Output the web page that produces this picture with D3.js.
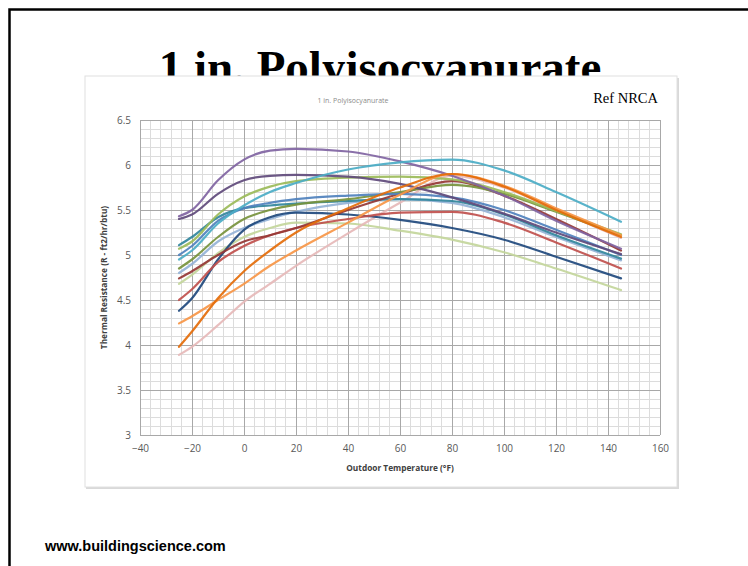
<!DOCTYPE html>
<html>
<head>
<meta charset="utf-8">
<script src="https://cdnjs.cloudflare.com/ajax/libs/d3/7.8.5/d3.min.js"></script>
<style>
	body { margin: 0; background: #fff; }
	svg { display: block; }
	.tick-label { font-family: 'Open Sans', sans-serif; font-size: 10px; fill: #595959; }
	.axis-title { font-family: 'Open Sans', sans-serif; font-size: 8.3px; font-weight: bold; fill: #404040; }
</style>
</head>
<body>
<svg id="chart-svg" width="748" height="566"></svg>
<script>
// temperatures (°F) where the curves were read
const temps = [ -25, -20, -10, 0, 10, 20, 40, 60, 80, 100, 120, 145 ];

// thermal resistance values per curve
const purple = [ 5.43, 5.5, 5.83, 6.06, 6.16, 6.18, 6.15, 6.04, 5.88, 5.66, 5.38, 5.07 ];
const darkPurple = [ 5.4, 5.45, 5.68, 5.83, 5.88, 5.89, 5.87, 5.79, 5.64, 5.46, 5.25, 5.01 ];
const green = [ 5.07, 5.15, 5.45, 5.65, 5.76, 5.82, 5.86, 5.87, 5.84, 5.7, 5.49, 5.23 ];
const olive = [ 4.85, 4.95, 5.2, 5.4, 5.5, 5.56, 5.62, 5.7, 5.78, 5.68, 5.48, 5.22 ];
const blue = [ 5.0, 5.1, 5.38, 5.52, 5.58, 5.62, 5.66, 5.68, 5.64, 5.5, 5.28, 5.0 ];
const cyan = [ 4.95, 5.05, 5.35, 5.55, 5.7, 5.8, 5.95, 6.03, 6.06, 5.94, 5.7, 5.37 ];
const darkRed = [ 4.74, 4.82, 5.0, 5.15, 5.22, 5.3, 5.5, 5.68, 5.82, 5.66, 5.4, 5.05 ];
const red = [ 4.5, 4.62, 4.92, 5.1, 5.22, 5.3, 5.4, 5.47, 5.48, 5.36, 5.14, 4.85 ];
const navy = [ 4.38, 4.52, 4.95, 5.28, 5.42, 5.47, 5.45, 5.39, 5.3, 5.17, 4.98, 4.74 ];
const teal = [ 5.11, 5.2, 5.42, 5.52, 5.55, 5.57, 5.6, 5.62, 5.6, 5.45, 5.22, 4.96 ];
const lightBlue = [ 4.8, 4.9, 5.15, 5.3, 5.4, 5.48, 5.58, 5.62, 5.58, 5.42, 5.2, 4.94 ];
const paleGreen = [ 4.68, 4.78, 5.02, 5.2, 5.3, 5.36, 5.35, 5.27, 5.17, 5.03, 4.85, 4.61 ];
const orange = [ 4.24, 4.32, 4.5, 4.68, 4.88, 5.05, 5.36, 5.67, 5.9, 5.77, 5.52, 5.22 ];
const darkOrange = [ 3.98, 4.15, 4.52, 4.82, 5.05, 5.25, 5.52, 5.75, 5.9, 5.76, 5.5, 5.2 ];
const pink = [ 3.89, 3.98, 4.22, 4.48, 4.68, 4.88, 5.24, 5.58, 5.88, 5.75, 5.5, 5.19 ];

const seriesList = [
	{ values: paleGreen, color: '#c3d69b' },
	{ values: pink, color: '#e6b9b8' },
	{ values: lightBlue, color: '#95b3d7' },
	{ values: teal, color: '#31859c' },
	{ values: navy, color: '#1f497d' },
	{ values: red, color: '#c0504d' },
	{ values: darkRed, color: '#953735' },
	{ values: olive, color: '#77933c' },
	{ values: blue, color: '#4f81bd' },
	{ values: green, color: '#9bbb59' },
	{ values: darkPurple, color: '#604a7b' },
	{ values: purple, color: '#8064a2' },
	{ values: cyan, color: '#4bacc6' },
	{ values: orange, color: '#f79646' },
	{ values: darkOrange, color: '#e46c0a' }
];

const xTicks = [ -40, -20, 0, 20, 40, 60, 80, 100, 120, 140, 160 ];
const yTicks = [ 3, 3.5, 4, 4.5, 5, 5.5, 6, 6.5 ];

const PLOT = { left: 140, right: 660, top: 120, bottom: 435 };

const svg = d3.select('#chart-svg');

// slide frame
svg.append('rect').attr('x', 9.5).attr('y', 9.5).attr('width', 760).attr('height', 570)
	.attr('fill', 'none').attr('stroke', '#000').attr('stroke-width', 2.5);

// slide title (partly hidden behind the chart picture)
svg.append('text')
	.attr('x', 380).attr('y', 83)
	.attr('text-anchor', 'middle')
	.style('font-family', "'Liberation Serif', serif")
	.style('font-weight', 'bold')
	.style('font-size', '47px')
	.text('1 in. Polyisocyanurate');

// chart picture background
svg.append('rect').attr('x', 86).attr('y', 78).attr('width', 593).attr('height', 411)
	.attr('fill', '#d9d9d9');
svg.append('rect').attr('x', 85).attr('y', 76).attr('width', 592).attr('height', 411)
	.attr('fill', '#fff').attr('stroke', '#e0e0e0').attr('stroke-width', 1);

svg.append('text')
	.attr('x', 658).attr('y', 103)
	.attr('text-anchor', 'end')
	.style('font-family', "'Liberation Serif', serif")
	.style('font-size', '14.5px')
	.text('Ref NRCA');

svg.append('text')
	.attr('x', 353).attr('y', 103)
	.attr('text-anchor', 'middle')
	.style('font-family', "'Open Sans', sans-serif")
	.style('font-size', '7px')
	.style('fill', '#8c8c8c')
	.text('1 in. Polyisocyanurate');

const xScale = d3.scaleLinear().domain([ -40, 160 ]).range([ PLOT.left, PLOT.right ]);
const yScale = d3.scaleLinear().domain([ 3, 6.5 ]).range([ PLOT.bottom, PLOT.top ]);

// minor gridlines
const grid = svg.append('g').attr('id', 'grid');
grid.selectAll('.vminor').data(d3.range(-40, 160.1, 4)).enter().append('line')
	.attr('x1', (d) => xScale(d)).attr('x2', (d) => xScale(d))
	.attr('y1', PLOT.top).attr('y2', PLOT.bottom)
	.attr('stroke', '#dcdcdc').attr('stroke-width', 1).attr('shape-rendering', 'crispEdges');
grid.selectAll('.hminor').data(d3.range(30, 65.1, 1).map((v) => v / 10)).enter().append('line')
	.attr('y1', (d) => yScale(d)).attr('y2', (d) => yScale(d))
	.attr('x1', PLOT.left).attr('x2', PLOT.right)
	.attr('stroke', '#dcdcdc').attr('stroke-width', 1).attr('shape-rendering', 'crispEdges');

// major gridlines + axes
const xAxis = d3.axisBottom(xScale).tickValues(xTicks).tickSize(-(PLOT.bottom - PLOT.top)).tickPadding(10);
const yAxis = d3.axisLeft(yScale).tickValues(yTicks).tickSize(-(PLOT.right - PLOT.left)).tickPadding(9)
	.tickFormat(d3.format('~g'));

svg.append('g').attr('id', 'x-axis').attr('transform', 'translate(0,' + PLOT.bottom + ')').call(xAxis);
svg.append('g').attr('id', 'y-axis').attr('transform', 'translate(' + PLOT.left + ',0)').call(yAxis);
svg.selectAll('#x-axis .domain, #y-axis .domain').remove();
svg.selectAll('#x-axis .tick line, #y-axis .tick line')
	.attr('stroke', '#a8a8a8').attr('shape-rendering', 'crispEdges');
svg.selectAll('#x-axis .tick text, #y-axis .tick text')
	.attr('class', 'tick-label').attr('fill', null);

svg.append('text')
	.attr('class', 'axis-title')
	.attr('x', 400).attr('y', 471)
	.attr('text-anchor', 'middle')
	.text('Outdoor Temperature (°F)');
svg.append('text')
	.attr('class', 'axis-title')
	.attr('transform', 'translate(107,' + ((PLOT.top + PLOT.bottom) / 2) + ') rotate(-90)')
	.attr('text-anchor', 'middle')
	.text('Thermal Resistance (R - ft2/hr/btu)');

// curves
const line = d3.line()
	.x((d, i) => xScale(temps[i]))
	.y((d) => yScale(d))
	.curve(d3.curveMonotoneX);

svg.append('g').attr('id', 'curves')
	.selectAll('path').data(seriesList).enter().append('path')
	.attr('d', (s) => line(s.values))
	.attr('fill', 'none')
	.attr('stroke', (s) => s.color)
	.attr('stroke-width', 2.2)
	.attr('stroke-linecap', 'round')
	.attr('stroke-opacity', 0.92);

// footer
svg.append('text')
	.attr('x', 45).attr('y', 551)
	.style('font-family', "'Liberation Sans', Arial, sans-serif")
	.style('font-weight', 'bold')
	.style('font-size', '14.5px')
	.text('www.buildingscience.com');
</script>
</body>
</html>
